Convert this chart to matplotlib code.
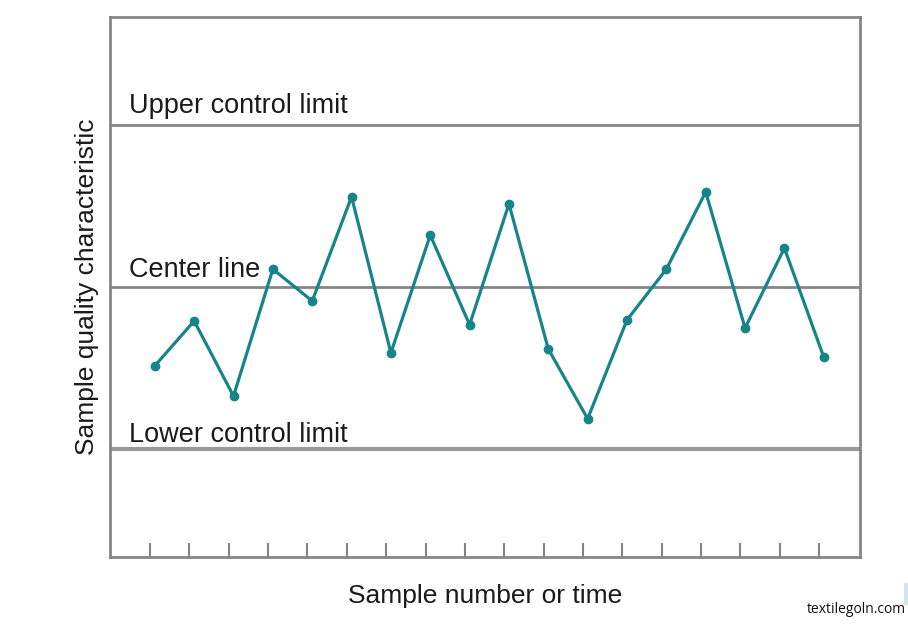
import matplotlib
matplotlib.use("Agg")
import matplotlib.pyplot as plt
from matplotlib.patches import Rectangle

# Data
samples = list(range(1, 19))
values = [-1.46, -0.63, -2.02, 0.33, -0.26, 1.67, -1.22, 0.96, -0.70,
          1.54, -1.15, -2.44, -0.61, 0.33, 1.76, -0.76, 0.72, -1.30]
center_line = 0.0
ucl = 3.0
lcl = -3.0
limit_labels = ["Upper control limit", "Center line", "Lower control limit"]
label_offsets = [0.22, 0.19, 0.13]

teal = "#16858a"
grey = "#858585"
txt = "#1a1a1a"

fig = plt.figure(figsize=(9.08, 6.28), dpi=100)
ax = fig.add_axes([0.1211, 0.1131, 0.826, 0.8599])
ax.set_xlim(-0.14, 18.92)
ax.set_ylim(-5, 5)

font = ["Liberation Sans", "DejaVu Sans"]

ax.axhline(ucl, color=grey, lw=2.0, zorder=1)
ax.axhline(center_line, color=grey, lw=2.0, zorder=1)
ax.axhline(lcl, color="#9a9a9a", lw=3.0, zorder=1)

ax.plot(samples, values, color=teal, lw=2.3, marker="o", ms=6,
        markerfacecolor=teal, markeredgecolor=teal, zorder=3)

for lab, yv, off in zip(limit_labels, [ucl, center_line, lcl], label_offsets):
    ax.text(0.35, yv + off, lab, fontsize=19.5, family=font, color=txt,
            ha="left", va="baseline", zorder=4)

ax.set_xticks([s - 0.12 for s in samples])
ax.set_xticklabels([])
ax.set_yticks([])
ax.tick_params(axis="x", direction="in", length=10, width=1.5, color=grey)

for sp in ax.spines.values():
    sp.set_color(grey)
    sp.set_linewidth(2.0)

ax.set_xlabel("Sample number or time", fontsize=19, family=font,
              color=txt, labelpad=16)
ax.set_ylabel("Sample quality characteristic", fontsize=19, family=font,
              color=txt, labelpad=8)

fig.text(0.998, 0.018, "textilegoln.com", fontsize=10, family=["Open Sans", "DejaVu Sans"],
         ha="right", va="bottom", color="#111111")
fig.patches.append(Rectangle((0.9956, 0.037), 0.006, 0.035, transform=fig.transFigure,
                             facecolor="#cfe6ee", edgecolor="none"))

fig.savefig("out.png", dpi=100)
